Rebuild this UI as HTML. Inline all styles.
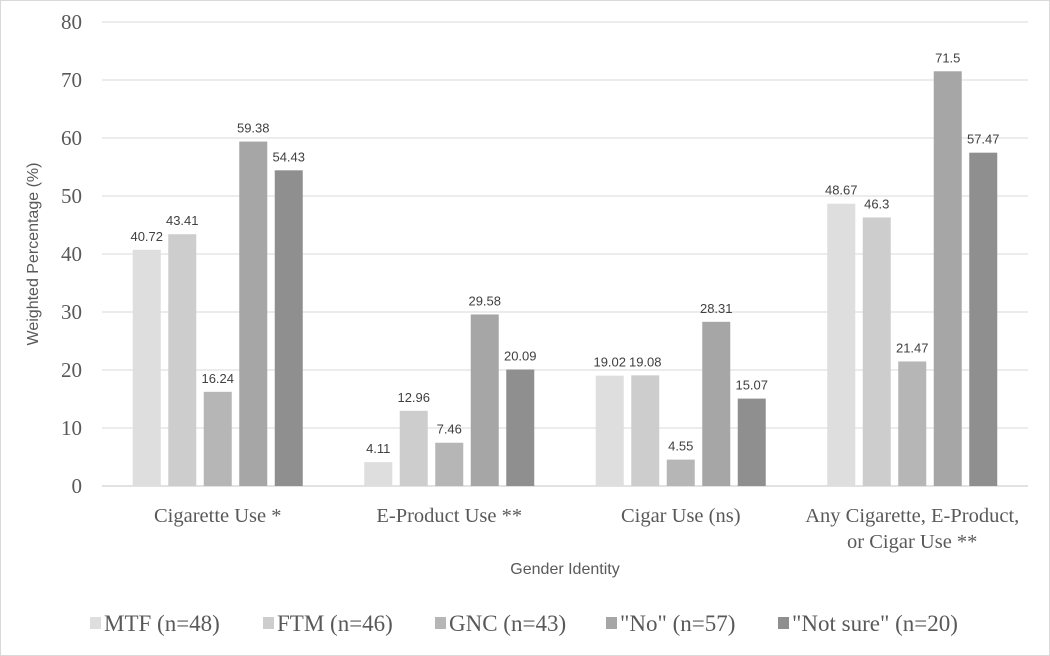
<!DOCTYPE html>
<html><head><style>
body{margin:0;background:#fff;}
svg{display:block;}
</style></head><body>
<svg id="chart" width="1050" height="656" viewBox="0 0 1050 656" xmlns="http://www.w3.org/2000/svg">
<rect x="0.5" y="0.5" width="1049" height="655" fill="#fff" stroke="#d9d9d9"/>
<g id="grid"></g><g id="bars"></g><g id="labels"></g>
<text x="38" y="254" transform="rotate(-90 38 254)" text-anchor="middle" font-family="Liberation Sans, sans-serif" font-size="16" fill="#595959">Weighted Percentage (%)</text>
<text x="565" y="574" text-anchor="middle" font-family="Liberation Sans, sans-serif" font-size="16" fill="#595959">Gender Identity</text>
<g id="legend"></g>
</svg>
<script>
const categories=[["Cigarette Use *"],["E-Product Use **"],["Cigar Use (ns)"],["Any Cigarette, E-Product,","or Cigar Use **"]];
const seriesNames=['MTF (n=48)','FTM (n=46)','GNC (n=43)','"No" (n=57)','"Not sure" (n=20)'];
const mtf=[40.72,4.11,19.02,48.67];
const ftm=[43.41,12.96,19.08,46.3];
const gnc=[16.24,7.46,4.55,21.47];
const no=[59.38,29.58,28.31,71.5];
const notSure=[54.43,20.09,15.07,57.47];
const yTicks=[0,10,20,30,40,50,60,70,80];
const series=[mtf,ftm,gnc,no,notSure];
const colors=['#dedede','#cdcdcd','#b6b6b6','#a6a6a6','#8f8f8f'];
const NS='http://www.w3.org/2000/svg';
const x0=102,x1=1028,y0=486,yTop=22;
const yS=v=>y0-(v/80)*(y0-yTop);
const cw=(x1-x0)/categories.length;
const xC=i=>x0+cw*(i+0.5);
const bw=28,pitch=35.5;
function mk(t,a,p,txt){const e=document.createElementNS(NS,t);for(const k in a)e.setAttribute(k,a[k]);if(txt!=null)e.textContent=txt;p.appendChild(e);return e;}
const grid=document.getElementById('grid'),bars=document.getElementById('bars'),labels=document.getElementById('labels'),legend=document.getElementById('legend');
yTicks.forEach(t=>{
 const l=mk('line',{x1:x0,x2:x1,y1:yS(t),y2:yS(t),stroke:'#d9d9d9','stroke-width':1},grid);
 
 
 const tx=mk('text',{x:82,y:yS(t)+7,'text-anchor':'end','font-family':'Liberation Serif, serif','font-size':21,fill:'#595959'},labels,t);
 
 
});
categories.forEach((c,i)=>{
 series.forEach((s,j)=>{
  const cx=xC(i)+(j-2)*pitch;
  const r=mk('rect',{x:cx-bw/2,y:yS(s[i]),width:bw,height:y0-yS(s[i]),fill:colors[j]},bars);
  
  
  const v=mk('text',{x:cx,y:yS(s[i])-9,'text-anchor':'middle','font-family':'Liberation Sans, sans-serif','font-size':13,fill:'#404040'},labels,String(s[i]));
  
  
 });
 c.forEach((line,k)=>{
  const t=mk('text',{x:xC(i),y:522+k*26,'text-anchor':'middle','font-family':'Liberation Serif, serif','font-size':20.5,fill:'#595959'},labels,line);
  
  
 });
});
const lx=[90,263,435,606,778];
seriesNames.forEach((n,j)=>{
 const sq=mk('rect',{x:lx[j],y:617,width:11,height:12,fill:colors[j]},legend);
 
 
 const t=mk('text',{x:lx[j]+14,y:631,'font-family':'Liberation Serif, serif','font-size':23,fill:'#595959'},legend,n);
 
 
});
mk('line',{x1:x0,x2:x1,y1:y0,y2:y0,stroke:'#d9d9d9','stroke-width':1.5},grid);
</script>
</body></html>
